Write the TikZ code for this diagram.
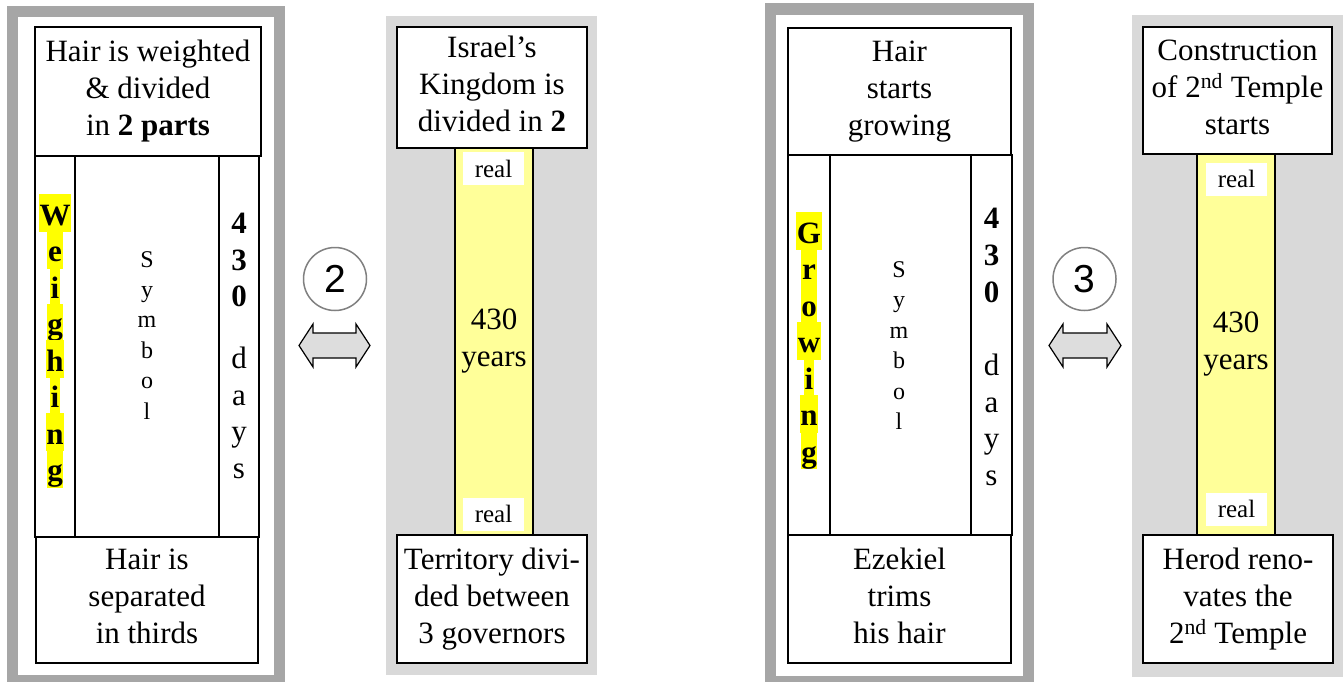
\documentclass[tikz,border=0pt]{standalone}
\usepackage{fontspec}
\setmainfont{Liberation Serif}
\newfontfamily\numfont{Liberation Sans}
\usepackage{xcolor}
\usepackage{tikz}

\newcommand{\boxfont}{\fontsize{31}{37}\selectfont}
\newcommand{\tagfont}{\fontsize{25}{30}\selectfont}
\newcommand{\symletterfont}{\fontsize{24}{29}\selectfont}
\newcommand{\stepfont}{\numfont\fontsize{39}{44}\selectfont}

\definecolor{frameGray}{HTML}{A6A6A6}
\definecolor{panelGray}{HTML}{D9D9D9}
\definecolor{barYellow}{HTML}{FFFF99}
\definecolor{hlYellow}{HTML}{FFFF00}
\definecolor{circGray}{HTML}{808080}
\definecolor{arrowGray}{HTML}{DDDDDD}

\begin{document}
\begin{tikzpicture}[x=1pt, y=-1pt,
  txtbox/.style={draw, line width=1.5pt, fill=white, inner sep=0pt,
                 align=center, font=\boxfont,
                 execute at begin node={\rule{0pt}{27.6pt}},
                 execute at end node={\rule[-6.7pt]{0pt}{6.7pt}}},
  colbox/.style={draw, line width=1.5pt, fill=white, inner sep=0pt},
  yearbar/.style={txtbox, fill=barYellow},
  realtag/.style={fill=white, inner sep=0pt, minimum width=61pt,
                  minimum height=33pt, font=\tagfont},
  hlchar/.style={fill=hlYellow, inner xsep=0.7pt, inner ysep=0pt,
                 text height=31pt, text depth=7pt, anchor=base,
                 font=\boxfont\bfseries},
  symchar/.style={inner sep=0pt, anchor=base, font=\symletterfont},
  daychar/.style={inner sep=0pt, anchor=base, font=\boxfont},
  numchar/.style={inner sep=0pt, anchor=base, font=\boxfont\bfseries},
  stepnum/.style={circle, draw=circGray, line width=1.5pt, minimum size=63pt,
                  inner sep=0pt, font=\stepfont},
  dblarrow/.style={draw, line width=1.2pt, fill=arrowGray, line join=miter},
  frame/.style={draw=frameGray, fill=white},
  panelbg/.style={fill=panelGray},
]
  \useasboundingbox (0,0) rectangle (1343,681);

  % Panel 1: weighing
  \draw[frame, line width=10.5pt] (12.25,11.5) rectangle (279.5,680.5);
  \node[txtbox, minimum width=226pt, minimum height=129pt] (weightop) at (148,91.5)
    {Hair is weighted\\\& divided\\in \textbf{2 parts}};
  \node[colbox, minimum width=40pt, minimum height=381pt] (weighcol) at (55,346.5) {};
  \node[colbox, minimum width=144pt, minimum height=381pt] (symcolA) at (147,346.5) {};
  \node[colbox, minimum width=40pt, minimum height=381pt] (dayscolA) at (239,346.5) {};
  \node[txtbox, minimum width=222pt, minimum height=126pt] (thirds) at (147,600)
    {Hair is\\separated\\in thirds};
  \foreach \ch [count=\i] in {W,e,i,g,h,i,n,g}
    \node[hlchar] (weigh\i) at ({55},{225+36.5*(\i-1)}) {\ch};
  \foreach \ch [count=\i] in {S,y,m,b,o,l}
    \node[symchar] (symA\i) at ({147},{267+30.4*(\i-1)}) {\ch};
  \foreach \ch/\yy [count=\i] in {4/233,3/270,0/306}
    \node[numchar] (numA\i) at (239,\yy) {\ch};
  \foreach \ch/\yy [count=\i] in {d/368,a/405,y/441,s/478}
    \node[daychar] (dayA\i) at (239,\yy) {\ch};

  % Panel 2: kingdom
  \fill[panelbg] (386,16) rectangle (597,675);
  \node[txtbox, minimum width=190pt, minimum height=121pt] (kingdom) at (492,87.5)
    {Israel’s\\Kingdom is\\divided in \textbf{2}};
  \node[yearbar, minimum width=78pt, minimum height=387pt] (barA) at (494,341.5)
    {430\\years};
  \node[txtbox, minimum width=190pt, minimum height=128pt] (territory) at (492,599)
    {Territory divi-\\ded between\\3 governors};
  \node[realtag] (realA1) at (493.5,168.5) {real};
  \node[realtag] (realA2) at (493.5,514) {real};

  % Link 2
  \node[stepnum] (stepA) at (335,279) {2};
  \coordinate (swapA) at (334.5,345.5);
  \draw[dblarrow, shift={(swapA)}] (-35.5,0) -- (-21.5,-21.5) -- (-21.5,-12.5)
    -- (21.5,-12.5) -- (21.5,-21.5) -- (35.5,0) -- (21.5,21.5) -- (21.5,12.5)
    -- (-21.5,12.5) -- (-21.5,21.5) -- cycle;

  % Panel 3: growing
  \draw[frame, line width=11.5pt] (770.5,9) rectangle (1028.5,681.75);
  \node[txtbox, minimum width=223pt, minimum height=127pt] (growtop) at (899.5,91.5)
    {Hair\\starts\\growing};
  \node[colbox, minimum width=42pt, minimum height=380pt] (growcol) at (809,345) {};
  \node[colbox, minimum width=141pt, minimum height=380pt] (symcolB) at (900.5,345) {};
  \node[colbox, minimum width=41pt, minimum height=380pt] (dayscolB) at (991.5,345) {};
  \node[txtbox, minimum width=223pt, minimum height=128pt] (trims) at (899.5,599)
    {Ezekiel\\trims\\his hair};
  \foreach \ch [count=\i] in {G,r,o,w,i,n,g}
    \node[hlchar] (grow\i) at ({809},{243+36.5*(\i-1)}) {\ch};
  \foreach \ch [count=\i] in {S,y,m,b,o,l}
    \node[symchar] (symB\i) at ({899},{277+30.5*(\i-1)}) {\ch};
  \foreach \ch/\yy [count=\i] in {4/228,3/265,0/302}
    \node[numchar] (numB\i) at (991.5,\yy) {\ch};
  \foreach \ch/\yy [count=\i] in {d/375,a/412,y/448,s/485}
    \node[daychar] (dayB\i) at (991.5,\yy) {\ch};

  % Panel 4: temple
  \fill[panelbg] (1132,15) rectangle (1343,677);
  \node[txtbox, minimum width=189pt, minimum height=127pt] (construct) at (1237.5,90.5)
    {Construction\\of 2\textsuperscript{nd} Temple\\starts};
  \node[yearbar, minimum width=78pt, minimum height=381pt] (barB) at (1236,344.5)
    {430\\years};
  \node[txtbox, minimum width=190pt, minimum height=128pt] (herod) at (1238,599)
    {Herod reno-\\vates the\\2\textsuperscript{nd} Temple};
  \node[realtag] (realB1) at (1236.5,179) {real};
  \node[realtag] (realB2) at (1236.5,509) {real};

  % Link 3
  \node[stepnum] (stepB) at (1084.5,279) {3};
  \coordinate (swapB) at (1085,345.5);
  \draw[dblarrow, shift={(swapB)}] (-36,0) -- (-22,-21.5) -- (-22,-12.5)
    -- (22,-12.5) -- (22,-21.5) -- (36,0) -- (22,21.5) -- (22,12.5)
    -- (-22,12.5) -- (-22,21.5) -- cycle;
\end{tikzpicture}
\end{document}
